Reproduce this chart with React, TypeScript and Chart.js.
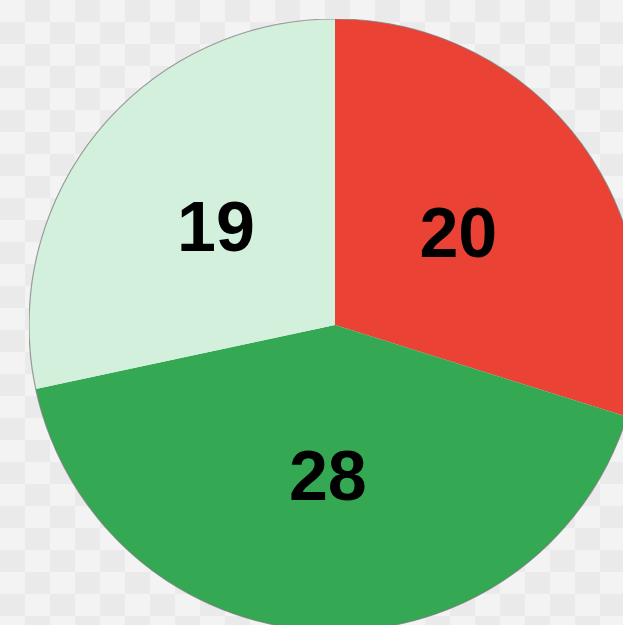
import React, { useEffect, useRef } from "react";
import { Chart, registerables } from "chart.js";

Chart.register(...registerables);

const categories = ["A", "B", "C"];
const values = [20, 28, 19];
const colors = ["#EA4335", "#34A853", "#D3F0DC"];

const labelPlugin = {
  id: "sliceLabels",
  afterDatasetsDraw(chart: any) {
    const ctx = chart.ctx;
    const meta = chart.getDatasetMeta(0);
    const first = meta.data[0];
    if (first) {
      ctx.save();
      ctx.beginPath();
      ctx.arc(first.x, first.y, first.outerRadius, 0, Math.PI * 2);
      ctx.strokeStyle = "rgba(120,120,120,0.7)";
      ctx.lineWidth = 1.2;
      ctx.stroke();
      ctx.restore();
    }
    ctx.save();
    ctx.font = "bold 70px 'Liberation Sans', Arial, sans-serif";
    ctx.fillStyle = "#000";
    ctx.textAlign = "center";
    ctx.textBaseline = "middle";
    meta.data.forEach((arc: any, i: number) => {
      const p = arc.getCenterPoint();
      ctx.fillText(String(chart.data.datasets[0].data[i]), p.x, p.y + 3);
    });
    ctx.restore();
  },
};

export default function App() {
  const ref = useRef<HTMLCanvasElement>(null);
  useEffect(() => {
    if (!ref.current) return;
    const chart = new Chart(ref.current, {
      type: "pie",
      data: {
        labels: categories,
        datasets: [
          {
            data: values,
            backgroundColor: colors,
            borderWidth: 0,
          },
        ],
      },
      options: {
        responsive: false,
        animation: false,
        layout: { padding: 0 },
        plugins: {
          legend: { display: false },
          tooltip: { enabled: false },
        },
      },
      plugins: [labelPlugin],
    });
    return () => chart.destroy();
  }, []);

  const bg =
    "repeating-conic-gradient(#eaeaea 0% 25%, #f3f3f3 0% 50%) 0 0 / 50px 44px";

  return (
    <div
      style={{
        position: "fixed",
        left: 0,
        top: 0,
        width: 623,
        height: 625,
        overflow: "hidden",
        background: bg,
      }}
    >
      <canvas
        ref={ref}
        width={612}
        height={612}
        style={{ position: "absolute", left: 29, top: 19, width: 612, height: 612 }}
      />
    </div>
  );
}
